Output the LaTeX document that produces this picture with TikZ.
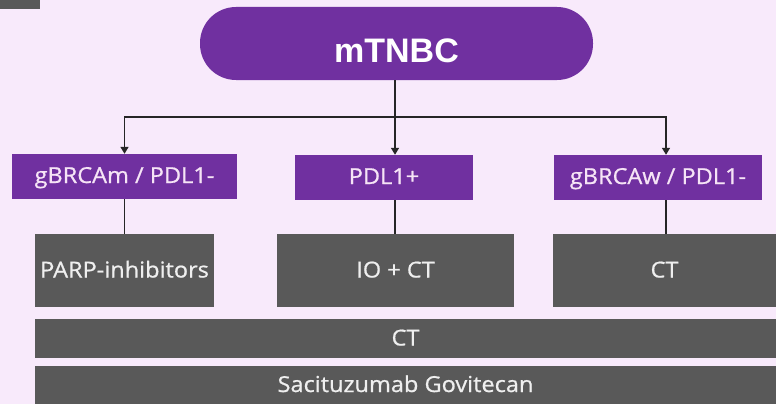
\documentclass[tikz,border=0pt]{standalone}
\usepackage{fontspec}
\setmainfont{Open Sans}
\newfontfamily\boxfont[FakeStretch=1.07, FakeBold=0.8]{Open Sans}
\newfontfamily\headfont{Liberation Sans}
\usetikzlibrary{arrows.meta}
\definecolor{bgpink}{HTML}{F8EAFB}
\definecolor{violetbox}{HTML}{7030A0}
\definecolor{greybox}{HTML}{595959}
\definecolor{paletext}{HTML}{F6E4F6}
\definecolor{greytext}{HTML}{EFEFEF}
\begin{document}
\begin{tikzpicture}[x=1pt,y=-1pt,
  groupbox/.style={fill=violetbox, text=paletext, inner sep=0pt,
    minimum height=45pt, text height=16pt, text depth=3pt,
    font=\boxfont\fontsize{22}{24}\selectfont},
  therapybox/.style={fill=greybox, text=greytext, inner sep=0pt,
    text height=16pt, text depth=2pt,
    font=\boxfont\fontsize{22}{24}\selectfont},
  link/.style={draw=black!85, line width=1.4pt},
  arr/.style={link, -{Triangle[width=8pt,length=7pt]}}]
\useasboundingbox (0,0) rectangle (776,404);
\fill[bgpink] (0,0) rectangle (776,404);
% tab in the upper left corner
\fill[greybox] (0,0) rectangle (40,9);

% root
\node[fill=violetbox, text=white, rounded corners=36pt, inner sep=0pt,
  minimum width=393pt, minimum height=73pt, text height=39pt, text depth=0pt,
  font=\headfont\bfseries\fontsize{34}{38}\selectfont] (root) at (396.5,43.5) {mTNBC};

% patient groups
\node[groupbox, minimum width=225pt] (gbm) at (124.5,176.5) {gBRCAm / PDL1-};
\node[groupbox, minimum width=178pt] (pdl) at (384,177.5) {PDL1+};
\node[groupbox, minimum width=208pt] (gbw) at (658,177.5) {gBRCAw / PDL1-};

% therapies
\node[therapybox, minimum width=179pt, minimum height=73pt] (parp) at (124.5,270.5) {PARP-inhibitors};
\node[therapybox, minimum width=237pt, minimum height=73pt] (io) at (395.5,270.5) {IO + CT};
\node[therapybox, minimum width=223pt, minimum height=73pt] (ctr) at (664.5,270.5) {CT};
\node[therapybox, minimum width=741pt, minimum height=39pt] (ctall) at (405.5,338.5) {CT};
\node[therapybox, minimum width=741pt, minimum height=38pt] (sg) at (405.5,385) {Sacituzumab Govitecan};

% branching connectors
\coordinate (hub) at (395,117);
\coordinate (rightdrop) at (666,117);
\draw[arr] (root.south -| hub) -- (pdl.north -| hub);
\draw[arr] (hub) -| (gbm.north);
\draw[arr] (hub) -- (rightdrop) -- (gbw.north -| rightdrop);

% group to therapy links
\draw[link] (gbm.south) -- (parp.north);
\draw[link] (pdl.south -| hub) -- (io.north -| hub);
\draw[link] (gbw.south -| rightdrop) -- (ctr.north -| rightdrop);
\end{tikzpicture}
\end{document}
